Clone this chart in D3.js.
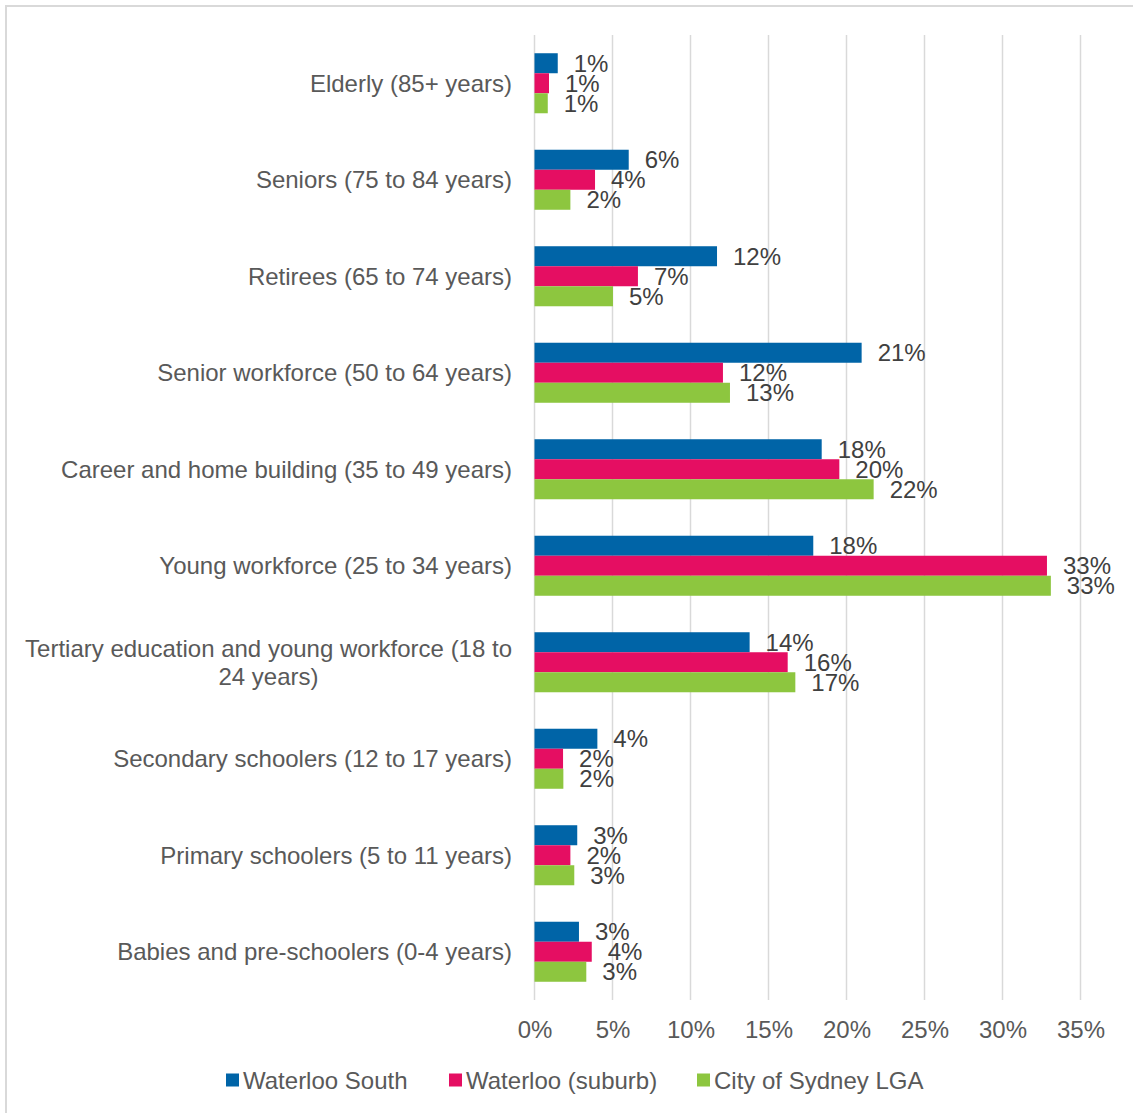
<!DOCTYPE html>
<html>
<head>
<meta charset="utf-8">
<script src="https://cdn.jsdelivr.net/npm/d3@7"></script>
<style>
  html, body { margin: 0; padding: 0; background: #fff; }
  svg { display: block; }
  text { font-family: "Liberation Sans", Arial, sans-serif; }
</style>
</head>
<body>
<svg id="chart" width="1133" height="1113"></svg>
<script>
const categories = [
  "Elderly (85+ years)",
  "Seniors (75 to 84 years)",
  "Retirees (65 to 74 years)",
  "Senior workforce (50 to 64 years)",
  "Career and home building (35 to 49 years)",
  "Young workforce (25 to 34 years)",
  "Tertiary education and young workforce (18 to 24 years)",
  "Secondary schoolers (12 to 17 years)",
  "Primary schoolers (5 to 11 years)",
  "Babies and pre-schoolers (0-4 years)"
];
const seriesNames = ["Waterloo South", "Waterloo (suburb)", "City of Sydney LGA"];
const waterlooSouth = [1.49, 6.04, 11.7, 20.97, 18.41, 17.87, 13.79, 4.03, 2.74, 2.85];
const waterlooSuburb = [0.93, 3.88, 6.63, 12.08, 19.54, 32.85, 16.23, 1.83, 2.30, 3.67];
const citySydney = [0.85, 2.30, 5.03, 12.53, 21.74, 33.1, 16.72, 1.85, 2.55, 3.32];
const xTicks = [0, 5, 10, 15, 20, 25, 30, 35];
const colors = ["#0064A7", "#E50E62", "#8DC63F"];

// wrapped category label lines
const labelLines = {
  "Tertiary education and young workforce (18 to 24 years)": ["Tertiary education and young workforce (18 to", "24 years)"]
};

const FS = "24px";
const seriesValues = [waterlooSouth, waterlooSuburb, citySydney];
const svg = d3.select("#chart");

// outer border
svg.append("rect")
  .attr("x", 6).attr("y", 6).attr("width", 1150).attr("height", 1130)
  .attr("fill", "none").attr("stroke", "#d9d9d9").attr("stroke-width", 2);

const x = d3.scaleLinear().domain([0, 35]).range([534.5, 1080.5]);
const y0 = d3.scaleBand().domain(categories).range([35, 1000]).paddingInner(0.378).paddingOuter(0.189);
const y1 = d3.scaleBand().domain(seriesNames).range([0, y0.bandwidth()]);

// gridlines
svg.append("g").selectAll("line").data(xTicks).join("line")
  .attr("x1", d => x(d)).attr("x2", d => x(d))
  .attr("y1", 35).attr("y2", 1000)
  .attr("stroke", "#d9d9d9").attr("stroke-width", 1.5);

// tick labels via axis
const axis = d3.axisBottom(x).tickValues(xTicks).tickFormat(d => d + "%").tickSize(0).tickPadding(0);
const ax = svg.append("g").attr("transform", "translate(0,1029)").call(axis);
ax.select(".domain").remove();
ax.selectAll("text")
  .attr("dy", "0.36em").attr("y", 0)
  .attr("fill", "#595959")
  .style("font-size", FS)
  .style("font-family", "'Liberation Sans', Arial, sans-serif");

// bars
const groups = svg.append("g").selectAll("g").data(categories).join("g")
  .attr("transform", c => `translate(0,${y0(c)})`);

groups.each(function(c, i) {
  const g = d3.select(this);
  seriesNames.forEach((s, si) => {
    const v = seriesValues[si][i];
    g.append("rect")
      .attr("x", x(0)).attr("y", y1(s))
      .attr("width", x(v) - x(0)).attr("height", y1.bandwidth())
      .attr("fill", colors[si]);
    g.append("text")
      .attr("x", x(v) + 16).attr("y", y1(s) + y1.bandwidth() / 2)
      .attr("dy", "0.36em")
      .attr("fill", "#404040")
      .style("font-size", FS)
      .text(Math.round(v) + "%");
  });
});

// category labels
categories.forEach(c => {
  const cy = y0(c) + y0.bandwidth() / 2;
  const lines = labelLines[c];
  if (lines) {
    const t = svg.append("text").attr("fill", "#595959").style("font-size", FS).attr("text-anchor", "middle");
    const tmp = svg.append("text").style("font-size", FS).text(lines[0]);
    const w = tmp.node().getComputedTextLength();
    tmp.remove();
    const cx = 512 - w / 2;
    lines.forEach((ln, li) => {
      t.append("tspan").attr("x", cx).attr("y", cy + (li - (lines.length - 1) / 2) * 28).attr("dy", "0.36em").text(ln);
    });
  } else {
    svg.append("text")
      .attr("x", 512).attr("y", cy).attr("dy", "0.36em")
      .attr("text-anchor", "end")
      .attr("fill", "#595959")
      .style("font-size", FS)
      .text(c);
  }
});

// legend
const legendX = [226, 449, 697];
seriesNames.forEach((s, i) => {
  svg.append("rect")
    .attr("x", legendX[i]).attr("y", 1073.5).attr("width", 13).attr("height", 13)
    .attr("fill", colors[i]);
  svg.append("text")
    .attr("x", legendX[i] + 17).attr("y", 1080).attr("dy", "0.36em")
    .attr("fill", "#595959")
    .style("font-size", FS)
    .text(s);
});
</script>
</body>
</html>
